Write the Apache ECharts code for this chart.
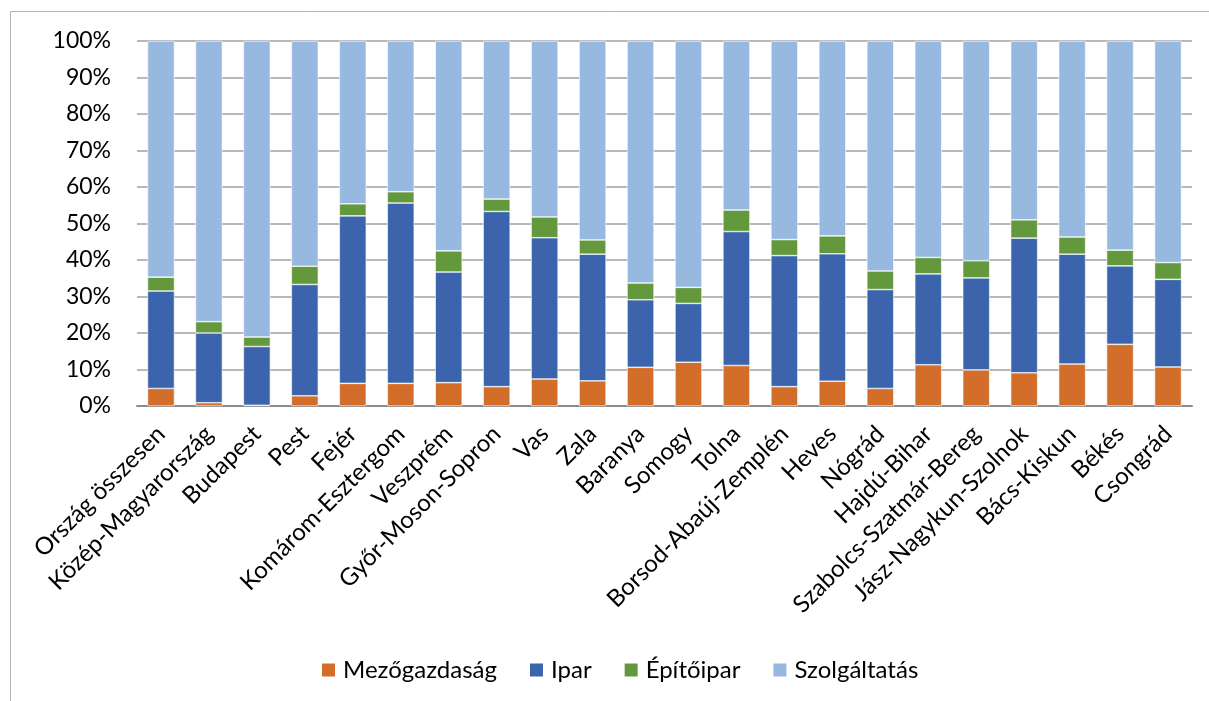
<!DOCTYPE html>
<html>
<head>
<meta charset="utf-8">
<script src="https://cdn.jsdelivr.net/npm/echarts@6/dist/echarts.min.js"></script>
<style>
  html, body { margin: 0; padding: 0; background: #fff; }
  #chart { width: 1209px; height: 701px; }
</style>
</head>
<body>
<div id="chart"></div>
<script>
// Megyék és régiók
const categories = [
  'Ország összesen', 'Közép-Magyarország', 'Budapest', 'Pest', 'Fejér',
  'Komárom-Esztergom', 'Veszprém', 'Győr-Moson-Sopron', 'Vas', 'Zala',
  'Baranya', 'Somogy', 'Tolna', 'Borsod-Abaúj-Zemplén', 'Heves', 'Nógrád',
  'Hajdú-Bihar', 'Szabolcs-Szatmár-Bereg', 'Jász-Nagykun-Szolnok',
  'Bács-Kiskun', 'Békés', 'Csongrád'
];

// Ágazatok részaránya (%)
const mezogazdasag = [4.8, 0.9, 0.2, 2.8, 6.2, 6.2, 6.4, 5.3, 7.4, 6.9, 10.6, 12.0, 11.1, 5.3, 6.8, 4.8, 11.3, 9.9, 9.1, 11.5, 16.9, 10.7];
const ipar         = [26.7, 19.1, 16.1, 30.5, 45.9, 49.4, 30.3, 48.0, 38.7, 34.7, 18.5, 16.1, 36.7, 35.9, 34.9, 27.1, 24.9, 25.2, 36.9, 30.1, 21.5, 24.0];
const epitoipar    = [3.8, 3.1, 2.6, 5.0, 3.3, 3.1, 5.8, 3.4, 5.7, 3.9, 4.6, 4.4, 5.9, 4.4, 4.9, 5.1, 4.5, 4.7, 5.0, 4.7, 4.3, 4.6];
const szolgaltatas = [64.7, 76.9, 81.1, 61.7, 44.6, 41.3, 57.5, 43.3, 48.2, 54.5, 66.3, 67.5, 46.3, 54.4, 53.4, 63.0, 59.3, 60.2, 49.0, 53.7, 57.3, 60.7];

const seriesNames = ['Mezőgazdaság', 'Ipar', 'Építőipar', 'Szolgáltatás'];
const seriesColors = ['#D36E2A', '#3B64AD', '#63983D', '#97B9E0'];
const seriesData = [mezogazdasag, ipar, epitoipar, szolgaltatas];

const FONT = 'Lato, "Open Sans", sans-serif';

const chart = echarts.init(document.getElementById('chart'), null, { renderer: 'canvas' });

chart.setOption({
  animation: false,
  backgroundColor: '#fff',
  // light frame around the chart area
  graphic: [{
    type: 'rect',
    silent: true,
    shape: { x: 10.5, y: 11.5, width: 1400, height: 900 },
    style: { fill: 'none', stroke: '#B4B4B4', lineWidth: 1 }
  }],
  grid: { left: 137, right: 17, top: 41, bottom: 295, containLabel: false },
  legend: {
    top: 653,
    left: 315,
    itemWidth: 15,
    itemHeight: 15,
    itemGap: 31,
    icon: 'rect',
    textStyle: { fontFamily: FONT, fontSize: 24, color: '#000', padding: [0, 0, 0, 2] },
    data: seriesNames
  },
  xAxis: {
    type: 'category',
    data: categories,
    axisTick: { show: false },
    axisLine: { lineStyle: { color: '#8C8C8C', width: 2 } },
    axisLabel: {
      interval: 0,
      rotate: 45,
      margin: 24,
      padding: [16, 0, 0, 0],
      fontFamily: FONT,
      fontSize: 24,
      color: '#000'
    }
  },
  yAxis: {
    type: 'value',
    min: 0,
    max: 100,
    interval: 10,
    axisLine: { show: false },
    axisTick: { show: false },
    splitLine: { lineStyle: { color: '#A0A0A0', width: 1.5 } },
    axisLabel: {
      margin: 26,
      fontFamily: FONT,
      fontSize: 23,
      color: '#000',
      formatter: '{value}%'
    }
  },
  series: seriesNames.map((name, i) => ({
    name: name,
    type: 'bar',
    stack: 'total',
    barWidth: 27,
    data: seriesData[i],
    itemStyle: { color: seriesColors[i], borderColor: '#fff', borderWidth: 0.6 }
  }))
});
</script>
</body>
</html>
